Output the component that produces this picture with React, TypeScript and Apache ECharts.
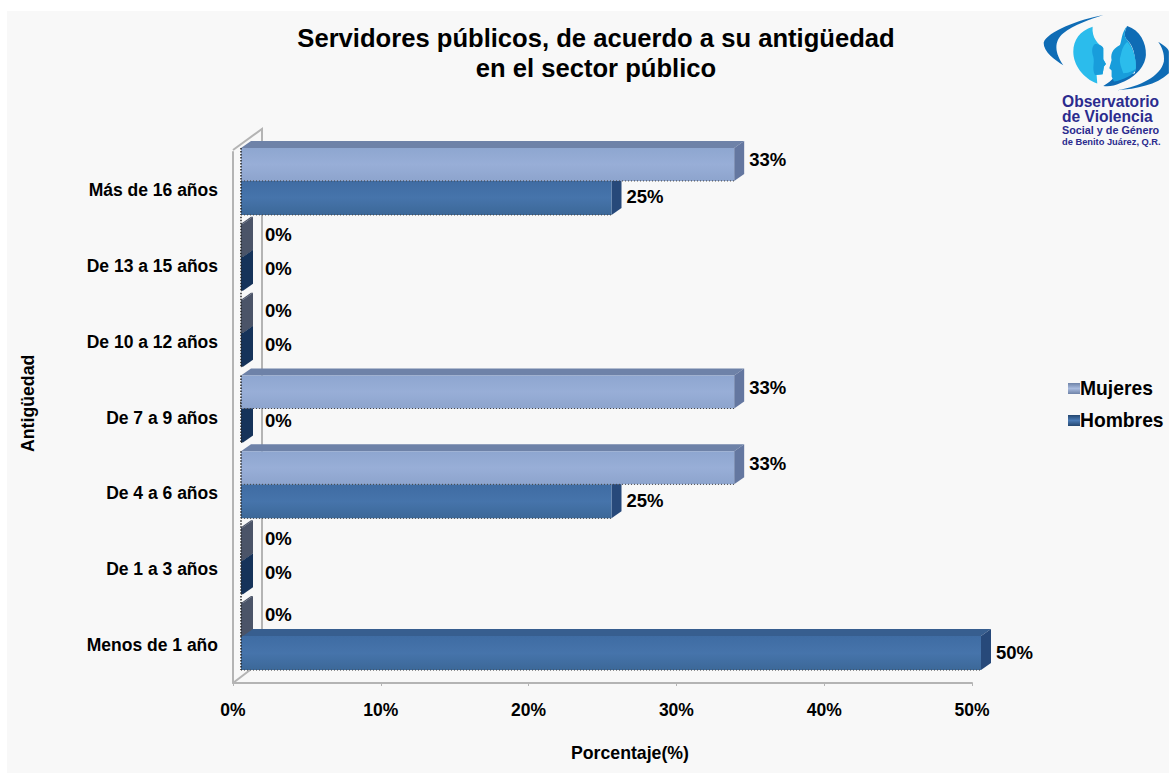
import React, { useEffect, useRef } from "react";
import * as echarts from "echarts";

const categories = ["Más de 16 años", "De 13 a 15 años", "De 10 a 12 años", "De 7 a 9 años", "De 4 a 6 años", "De 1 a 3 años", "Menos de 1 año"];
const mujeres = [33.3, 0, 0, 33.3, 33.3, 0, 0];
const hombres = [25, 0, 0, 0, 25, 0, 50];
const xTicks = [0, 10, 20, 30, 40, 50];
const FONT = "Liberation Sans";

const crescentL = "M190 15 C120 28 20 65 11 98 C10 125 45 150 70 166 C45 130 40 95 70 70 C100 45 150 28 190 15Z";
const crescentR = "M232 241 C300 230 362 200 372 155 C375 130 365 110 355 95 C370 105 387 115 387 125 L387 190 C350 225 290 237 232 241Z";
const faceL = "M158 50 C120 62 100 90 100 125 C100 165 130 205 172 221 L170 195 L188 193 L192 170 L198 162 L190 148 L190 115 C175 100 155 85 158 50Z";
const faceLIn = "M165 102 C180 102 190 110 190 115 L190 148 L198 162 L192 170 L188 193 L165 195 C155 175 165 160 160 140 C155 125 155 110 165 102Z";
const hairR = "M262 48 C300 60 320 100 318 135 C315 175 280 205 240 220 C225 228 205 230 190 228 C205 220 215 210 220 205 L285 190 C290 160 285 110 262 90 C250 80 255 60 262 48Z";
const faceR = "M262 48 C245 65 245 95 240 105 C215 118 212 135 215 150 L208 175 L215 182 L215 200 L222 215 C250 210 280 195 288 180 C290 150 280 110 262 90 C250 80 255 60 262 48Z";
const faceRIn = "M262 95 C245 110 245 130 240 145 C238 165 250 185 250 190 C270 190 285 180 288 175 C290 150 280 115 262 95Z";

echarts.graphic.registerShape("logoCrescentL", echarts.graphic.extendPath(crescentL, {}) as any);
echarts.graphic.registerShape("logoCrescentR", echarts.graphic.extendPath(crescentR, {}) as any);
echarts.graphic.registerShape("logoFaceL", echarts.graphic.extendPath(faceL, {}) as any);
echarts.graphic.registerShape("logoFaceLIn", echarts.graphic.extendPath(faceLIn, {}) as any);
echarts.graphic.registerShape("logoHairR", echarts.graphic.extendPath(hairR, {}) as any);
echarts.graphic.registerShape("logoFaceR", echarts.graphic.extendPath(faceR, {}) as any);
echarts.graphic.registerShape("logoFaceRIn", echarts.graphic.extendPath(faceRIn, {}) as any);

const grad = (a: string, b: string, c: string) =>
  new echarts.graphic.LinearGradient(0, 0, 0, 1, [
    { offset: 0, color: a },
    { offset: 0.5, color: b },
    { offset: 1, color: c },
  ]);

function bars3d(
  front: [string, string, string],
  top: string,
  side: string,
  zeroSide: string,
  yFrom: number,
  yTo: number,
  labelNonZero: number,
  labelZero: number
) {
  return (_: any, api: any) => {
    const v = api.value(0);
    const c = api.coord([0, api.value(1)])[1];
    const x0 = api.coord([0, 0])[0] + 8;
    const x1 = v > 0 ? api.coord([v, 0])[0] + 9 : x0 + 2;
    const y0 = c + yFrom;
    const y1 = c + yTo;
    const dx = 10;
    const dy = 7;
    const children: any[] = [
      { type: "polygon", shape: { points: [[x0, y0], [x0 + dx, y0 - dy], [x1 + dx, y0 - dy], [x1, y0]] }, style: { fill: v > 0 ? top : zeroSide } },
      { type: "polygon", shape: { points: [[x1, y0], [x1 + dx, y0 - dy], [x1 + dx, y1 - dy], [x1, y1]] }, style: { fill: v > 0 ? side : zeroSide } },
      { type: "rect", shape: { x: x0, y: y0, width: x1 - x0, height: y1 - y0 }, style: { fill: v > 0 ? grad(front[0], front[1], front[2]) : zeroSide } },
      { type: "line", shape: { x1: x0, y1: y0 - (v > 0 ? 0 : dy), x2: x0, y2: y1 }, style: { stroke: "#222", lineWidth: 1.5, lineDash: [1.5, 1.5] } },
      { type: "line", shape: { x1: x0, y1: y1, x2: x1, y2: y1 }, style: { stroke: "#444", lineWidth: 1, lineDash: [1, 2] } },
      {
        type: "text",
        x: x1 + dx + (v > 0 ? 5 : 12),
        y: c + (v > 0 ? labelNonZero : labelZero),
        style: { text: Math.round(v) + "%", fill: "#000", font: `bold 18.5px "${FONT}"`, textAlign: "left", textVerticalAlign: "middle" },
      },
    ];
    return { type: "group", children };
  };
}

export default function App() {
  const ref = useRef<HTMLDivElement>(null);
  useEffect(() => {
    document.body.style.margin = "0";
    const chart = echarts.init(ref.current!, undefined, { renderer: "svg" });
    const wall = "#b4b4b4";
    const logoTx = (text: string, y: number, size: number) => ({
      type: "text",
      left: 1062,
      top: y - size / 2 - 1,
      z: 5,
      style: { text, fill: "#2b2b8e", font: `bold ${size}px "${FONT}"` },
    });
    const logoShape = (type: string, fill: string) => ({
      type,
      x: 1040,
      y: 10,
      scaleX: 1 / 3,
      scaleY: 1 / 3,
      z: 4,
      style: { fill },
    });
    chart.setOption({
      animation: false,
      backgroundColor: "#ffffff",
      title: {
        text: "Servidores públicos, de acuerdo a su antigüedad\nen el sector público",
        left: 591,
        top: 18,
        textAlign: "center",
        textStyle: { fontFamily: FONT, fontWeight: "bold", fontSize: 25.6, lineHeight: 30, color: "#000" },
      },
      legend: {
        orient: "vertical",
        left: 1063,
        top: 374,
        itemWidth: 12,
        itemHeight: 11,
        itemGap: 13,
        icon: "rect",
        data: ["Mujeres", "Hombres"],
        textStyle: { fontFamily: FONT, fontWeight: "bold", fontSize: 19.3, color: "#000", padding: [0, 0, 0, -5] },
      },
      grid: { left: 233, right: 197, top: 152, bottom: 91, containLabel: false },
      xAxis: {
        type: "value",
        min: 0,
        max: 50,
        interval: 10,
        axisLine: { show: true, lineStyle: { color: wall, width: 2 } },
        axisTick: { show: true, length: 3, lineStyle: { color: wall } },
        splitLine: { show: false },
        axisLabel: { formatter: (v: number) => (xTicks.includes(v) ? v + "%" : ""), fontFamily: FONT, fontWeight: "bold", fontSize: 17.5, color: "#000", margin: 18 },
      },
      yAxis: {
        type: "category",
        inverse: true,
        data: categories,
        axisLine: { show: true, lineStyle: { color: wall, width: 2 } },
        axisTick: { show: false },
        axisLabel: { fontFamily: FONT, fontWeight: "bold", fontSize: 17.5, color: "#000", margin: 15 },
      },
      graphic: [
        { type: "rect", z: -10, silent: true, shape: { x: 7, y: 11, width: 1162, height: 762 }, style: { fill: "#f8f8f8" } },
        { type: "polyline", z: 0, shape: { points: [[233, 150], [262, 129], [262, 640]] }, style: { stroke: wall, lineWidth: 2, fill: "none" } },
        { type: "line", z: 0, shape: { x1: 233, y1: 683, x2: 250, y2: 670 }, style: { stroke: wall, lineWidth: 2 } },
        { type: "text", z: 5, rotation: Math.PI / 2, x: 19, y: 452, style: { text: "Antigüedad", fill: "#000", font: `bold 17.7px "${FONT}"` } },
        { type: "text", left: 571, top: 744, z: 5, style: { text: "Porcentaje(%)", fill: "#000", font: `bold 17.7px "${FONT}"` } },
        logoShape("logoCrescentL", "#0f6cb5"),
        logoShape("logoCrescentR", "#0f6cb5"),
        logoShape("logoFaceL", "#2bbcec"),
        logoShape("logoFaceLIn", "#189ddb"),
        logoShape("logoHairR", "#0f6cb5"),
        logoShape("logoFaceR", "#189ddb"),
        logoShape("logoFaceRIn", "#2bbcec"),
        logoTx("Observatorio", 102, 15.6),
        logoTx("de Violencia", 117, 15.6),
        logoTx("Social y de Género", 131, 10.8),
        logoTx("de Benito Juárez, Q.R.", 143, 9.3),
      ],
      series: [
        {
          name: "Hombres",
          type: "custom",
          z: 2,
          itemStyle: { color: grad("#24466f", "#4a7ab5", "#24466f") },
          renderItem: bars3d(["#3f6ca3", "#4674ab", "#3c6898"], "#375e8f", "#27497a", "#16335a", -9, 25, 7, 3),
          encode: { x: 0, y: 1 },
          data: hombres.map((v, i) => [v, i]),
        },
        {
          name: "Mujeres",
          type: "custom",
          z: 3,
          itemStyle: { color: grad("#6f83a8", "#a9bbde", "#6f83a8") },
          renderItem: bars3d(["#8ea6d0", "#98aed7", "#8da4cd"], "#6e82a8", "#6477a0", "#4b5468", -42, -9, -30, -31),
          encode: { x: 0, y: 1 },
          data: mujeres.map((v, i) => [v, i]),
        },
      ],
    });
    return () => chart.dispose();
  }, []);
  return <div ref={ref} style={{ position: "fixed", left: 0, top: 0, width: 1169, height: 774 }} />;
}
